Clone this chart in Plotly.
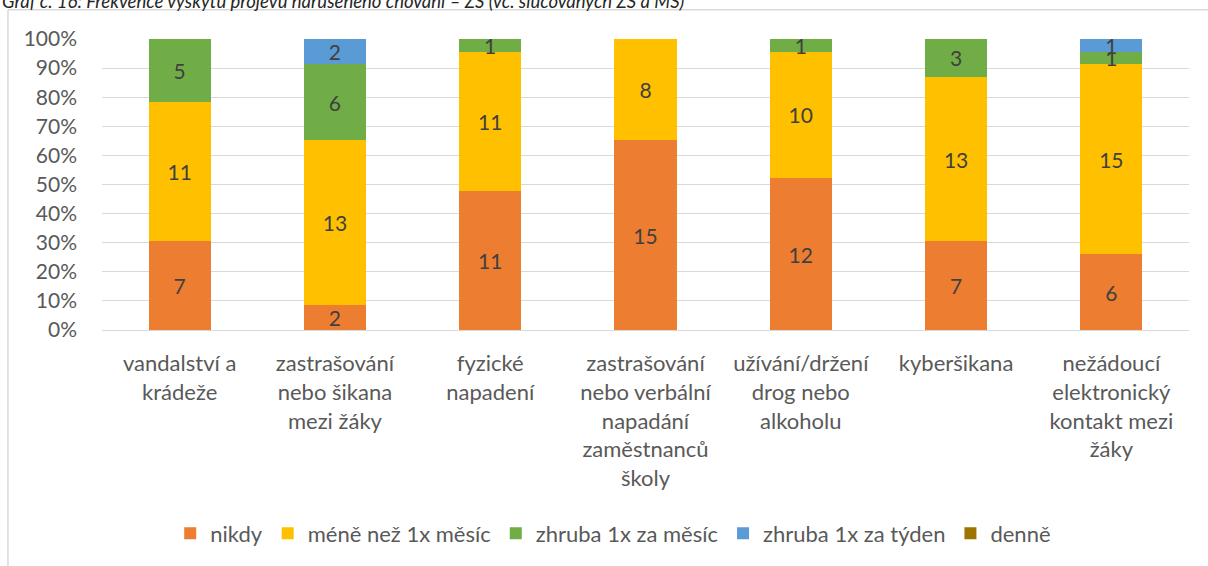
import plotly.graph_objects as go

categories = [
    "vandalství a<br>krádeže",
    "zastrašování<br>nebo šikana<br>mezi žáky",
    "fyzické<br>napadení",
    "zastrašování<br>nebo verbální<br>napadání<br>zaměstnanců<br>školy",
    "užívání/držení<br>drog nebo<br>alkoholu",
    "kyberšikana",
    "nežádoucí<br>elektronický<br>kontakt mezi<br>žáky",
]
series_names = ["nikdy", "méně než 1x měsíc", "zhruba 1x za měsíc", "zhruba 1x za týden", "denně"]
nikdy = [7, 2, 11, 15, 12, 7, 6]
mene = [11, 13, 11, 8, 10, 13, 15]
mesic = [5, 6, 1, 0, 1, 3, 1]
tyden = [0, 2, 0, 0, 0, 0, 1]
denne = [0, 0, 0, 0, 0, 0, 0]
colors = ["#ED7D31", "#FFC000", "#70AD47", "#5B9BD5", "#9E7400"]
title_text = "Graf č. 16: Frekvence výskytu projevů narušeného chování – ZŠ (vč. slučovaných ZŠ a MŠ)"

FONT = "Lato"

fig = go.Figure()
for name, vals, col in zip(series_names, [nikdy, mene, mesic, tyden, denne], colors):
    fig.add_trace(go.Bar(
        x=categories, y=vals, name=name, marker=dict(color=col, line=dict(width=0)),
        text=[str(v) if v else "" for v in vals],
        textposition="inside", insidetextanchor="middle", textangle=0,
        constraintext="none",
        textfont=dict(family=FONT, size=21, color="#404040"),
        cliponaxis=False,
    ))

fig.update_layout(
    barmode="stack", barnorm="percent", bargap=0.6,
    width=1208, height=566,
    margin=dict(l=102, r=19, t=38.5, b=233),
    paper_bgcolor="white", plot_bgcolor="white",
    font=dict(family=FONT, size=21, color="#595959"),
    showlegend=True,
    legend=dict(orientation="h", x=0.4703, xanchor="center", y=-0.699, yanchor="middle",
                font=dict(family=FONT, size=22, color="#595959"), traceorder="normal",
                itemwidth=30),
)
fig.update_yaxes(range=[0, 100], dtick=10, ticksuffix="%", showgrid=True, gridcolor="#d9d9d9",
                 gridwidth=1, zeroline=False, showline=False, ticks="", ticklabelstandoff=24,
                 tickfont=dict(family=FONT, size=21, color="#595959"))
fig.update_xaxes(showline=True, linecolor="#d9d9d9", linewidth=1, ticks="", ticklabelstandoff=14,
                 tickfont=dict(family=FONT, size=22, color="#595959"), tickangle=0)

fig.add_shape(type="line", xref="paper", yref="paper", x0=-0.0865, x1=-0.0865, y0=1.1002, y1=-0.9,
              line=dict(color="#d9d9d9", width=1.5))
fig.add_shape(type="line", xref="paper", yref="paper", x0=-0.0865, x1=1.1, y0=1.1002, y1=1.1002,
              line=dict(color="#d9d9d9", width=1.5))
fig.add_annotation(text=title_text, xref="paper", yref="paper", x=-0.0938, xanchor="left",
                   y=1.1307, yanchor="middle", showarrow=False,
                   font=dict(family=FONT, size=18.5, color="#262626", style="italic"))

fig.write_html("out.html", config={"displayModeBar": False},
               post_script="document.body.style.margin='0px';")
